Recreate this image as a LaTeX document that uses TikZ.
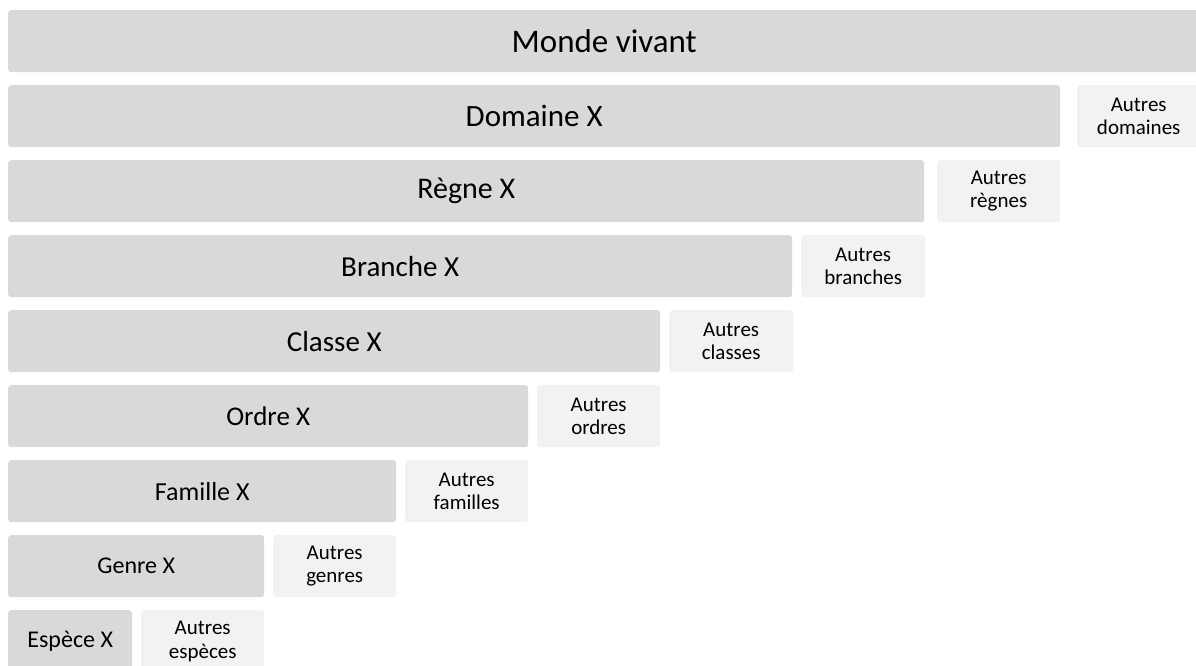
\documentclass[tikz,border=0pt]{standalone}
\usepackage{fontspec}
\setmainfont{Carlito}
\usepackage{xcolor}
\usepackage{tikz}
\usetikzlibrary{positioning}
\definecolor{bargray}{HTML}{D9D9D9}
\definecolor{othergray}{HTML}{F2F2F2}

\begin{document}
\begin{tikzpicture}[x=1pt,y=-1pt,
    rank/.style={fill=bargray,rounded corners=3pt,inner sep=0pt,anchor=north west,minimum height=62pt},
    others/.style={fill=othergray,rounded corners=3pt,inner sep=0pt,anchor=north west,minimum height=62pt,
        align=center,font=\fontsize{21}{23.5}\selectfont}]
    \useasboundingbox (0,0) rectangle (1196,666);

    % Ranks
    \node[rank,minimum width=1192pt,font=\fontsize{33}{36}\selectfont] (monde) at (8,10) {Monde vivant};
    \node[rank,minimum width=1052pt,font=\fontsize{31}{34}\selectfont] (domaine) at (8,85) {Domaine X};
    \node[rank,minimum width=916pt,font=\fontsize{30}{33}\selectfont] (regne) at (8,160) {Règne X};
    \node[rank,minimum width=784pt,font=\fontsize{29}{32}\selectfont] (branche) at (8,235) {Branche X};
    \node[rank,minimum width=652pt,font=\fontsize{29}{32}\selectfont] (classe) at (8,310) {Classe X};
    \node[rank,minimum width=520pt,font=\fontsize{27}{30}\selectfont] (ordre) at (8,385) {Ordre X};
    \node[rank,minimum width=388pt,font=\fontsize{26}{29}\selectfont] (famille) at (8,460) {Famille X};
    \node[rank,minimum width=256pt,font=\fontsize{24}{27}\selectfont] (genre) at (8,535) {Genre X};
    \node[rank,minimum width=124pt,font=\fontsize{24}{27}\selectfont] (espece) at (8,610) {Espèce X};

    % Other groups beside each rank
    \node[others,minimum width=123pt] (autresdomaines) at (1077,85) {Autres\\domaines};
    \node[others,minimum width=123pt] (autresregnes) at (937,160) {Autres\\règnes};
    \node[others,minimum width=124pt] (autresbranches) at (801,235) {Autres\\branches};
    \node[others,minimum width=124pt] (autresclasses) at (669,310) {Autres\\classes};
    \node[others,minimum width=123pt] (autresordres) at (537,385) {Autres\\ordres};
    \node[others,minimum width=123pt] (autresfamilles) at (405,460) {Autres\\familles};
    \node[others,minimum width=123pt] (autresgenres) at (273,535) {Autres\\genres};
    \node[others,minimum width=123pt] (autresespeces) at (141,610) {Autres\\espèces};
\end{tikzpicture}
\end{document}
